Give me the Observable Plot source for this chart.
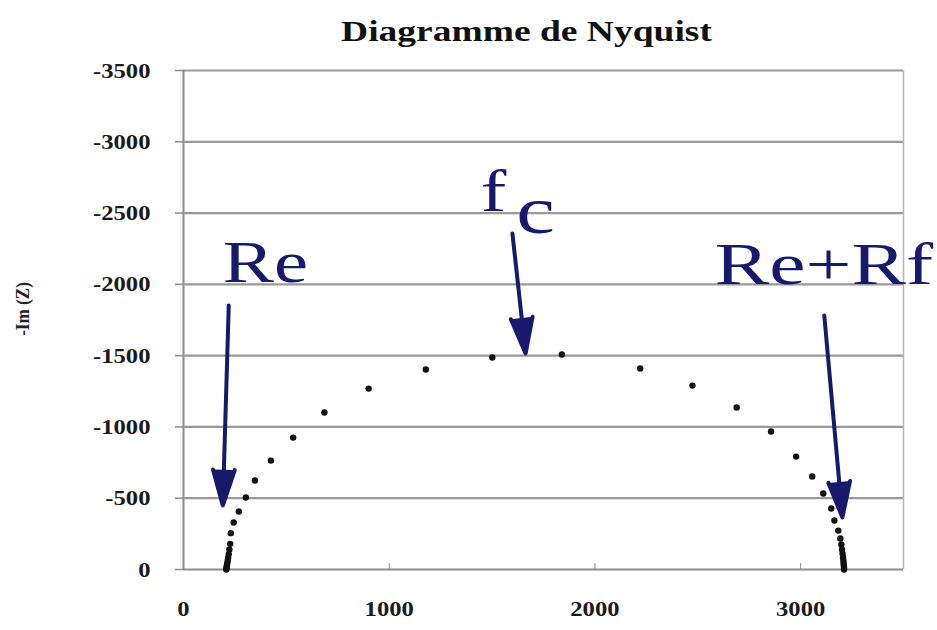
<!DOCTYPE html>
<html><head><meta charset="utf-8">
<script src="https://cdn.jsdelivr.net/npm/d3@7"></script>
<script src="https://cdn.jsdelivr.net/npm/@observablehq/plot@0.6"></script>
<style>body{margin:0;background:#fff}</style>
</head><body><div id="chart"></div>
<script>
const title = "Diagramme de Nyquist";
const yLabel = "-Im (Z)";
// Re(Z) and Im(Z) of the measured points
const reZ = [208, 209, 210, 211, 213, 215, 217, 220, 223, 227, 230, 244, 269, 303, 347, 425, 533, 685, 900, 1178, 1501,
             1839, 2220, 2474, 2689, 2856, 2978, 3056, 3110, 3149, 3164, 3183, 3193, 3198, 3201, 3204, 3206, 3208, 3209, 3210, 3211, 3211];
const imZ = [0, -8, -18, -30, -45, -62, -82, -108, -140, -180, -255, -330, -407, -505, -624, -764, -925, -1101, -1269, -1403, -1487,
             -1508, -1410, -1290, -1136, -968, -792, -652, -533, -428, -344, -273, -217, -175, -140, -110, -85, -62, -42, -26, -12, 0];
const xTicks = [0, 1000, 2000, 3000];
const yTicks = [0, -500, -1000, -1500, -2000, -2500, -3000, -3500];
// annotation arrows (data units)
const arrowX1 = [220, 1599, 3115];
const arrowY1 = [-1851, -2356, -1781];
const arrowX2 = [191, 1663, 3203];
const arrowY2 = [-449, -1515, -365];
// annotation labels (data units)
const noteText = ["Re", "f", "Re+Rf"];
const noteX = [191, 1445, 2583];
const noteY = [-2020, -2517, -2006];
const subText = ["c"];
const subX = [1618];
const subY = [-2363];

const points = reZ.map((x, i) => ({x, y: imZ[i]}));
const arrows = arrowX1.map((x1, i) => ({x1, y1: arrowY1[i], x2: arrowX2[i], y2: arrowY2[i]}));
const notes = noteText.map((t, i) => ({t, x: noteX[i], y: noteY[i]}));
const subs = subText.map((t, i) => ({t, x: subX[i], y: subY[i]}));

const navy = "#17196a";
const plot = Plot.plot({
  width: 937, height: 630,
  marginLeft: 183, marginRight: 34, marginTop: 70, marginBottom: 61,
  style: {fontFamily: "'Liberation Serif', 'Times New Roman', serif", fontWeight: "bold", fontSize: "22px", color: "#1a1a1a", background: "#fff"},
  x: {domain: [0, 3500]},
  y: {domain: [0, -3500]},
  marks: [
    Plot.ruleY(yTicks.filter(d => d !== 0), {stroke: "#999", strokeWidth: 2.2}),
    Plot.ruleX([3500], {stroke: "#b8b8b8", strokeWidth: 1.5}),
    Plot.ruleY([0], {stroke: "#8c8c8c", strokeWidth: 2.2}),
    Plot.ruleX([0], {stroke: "#8c8c8c", strokeWidth: 2}),
    Plot.axisY({ticks: yTicks, tickSize: 8, tickPadding: 25, tickFormat: d => String(d), stroke: "#8c8c8c", fill: "#1a1a1a", strokeWidth: 1.5, label: null}),
    Plot.axisX({ticks: xTicks, tickSize: 6, dy: -6, tickFormat: () => "", stroke: "#8c8c8c", label: null}),
    Plot.axisX({ticks: xTicks, tickSize: 0, tickPadding: 31, tickFormat: d => String(d), fill: "#1a1a1a", label: null}),
    Plot.dot(points, {x: "x", y: "y", r: 3.2, fill: "#111"}),
    Plot.arrow(arrows, {x1: "x1", y1: "y1", x2: "x2", y2: "y2", stroke: navy, strokeWidth: 4, headLength: 14, headAngle: 34, strokeLinejoin: "miter"}),
    Plot.text(notes, {x: "x", y: "y", text: "t", textAnchor: "start", lineAnchor: "bottom", fontSize: 60, fontWeight: "normal", fill: navy}),
    Plot.text(subs, {x: "x", y: "y", text: "t", textAnchor: "start", lineAnchor: "bottom", fontSize: 68, fontWeight: "normal", fill: navy}),
    Plot.text([title], {frameAnchor: "top", dx: -17, dy: -30, lineAnchor: "bottom", fontSize: 30, fontWeight: "bold", fill: "#111"}),
    Plot.text([yLabel], {frameAnchor: "left", rotate: -90, dx: -161, dy: -11, textAnchor: "middle", fontSize: 19, fontWeight: "bold", fill: "#222"})
  ]
});
document.getElementById("chart").append(plot);
// fill the arrowheads (the arrow group is the one stroked in navy)
plot.querySelectorAll("g").forEach(g => {
  if ((g.getAttribute("stroke") || "").toLowerCase() === navy && g.querySelector("path")) {
    g.setAttribute("fill", navy);
    g.querySelectorAll("path").forEach(p => { p.setAttribute("fill", navy); p.style.fill = navy; });
  }
});
// the reference is horizontally stretched: widen texts accordingly
const stretch = t => t === title ? 1.25 : t === "Re+Rf" ? 1.36 : (t === "Re" || t === "f" || t === "c") ? 1.28 : 1.12;
plot.querySelectorAll("text").forEach(t => {
  const L = t.getComputedTextLength();
  if (!(L > 0)) return;
  const k = (t.getAttribute("transform") || "").includes("rotate") ? 0.9 : stretch(t.textContent);
  t.setAttribute("textLength", (L * k).toFixed(1));
  t.setAttribute("lengthAdjust", "spacingAndGlyphs");
});
</script></body></html>
